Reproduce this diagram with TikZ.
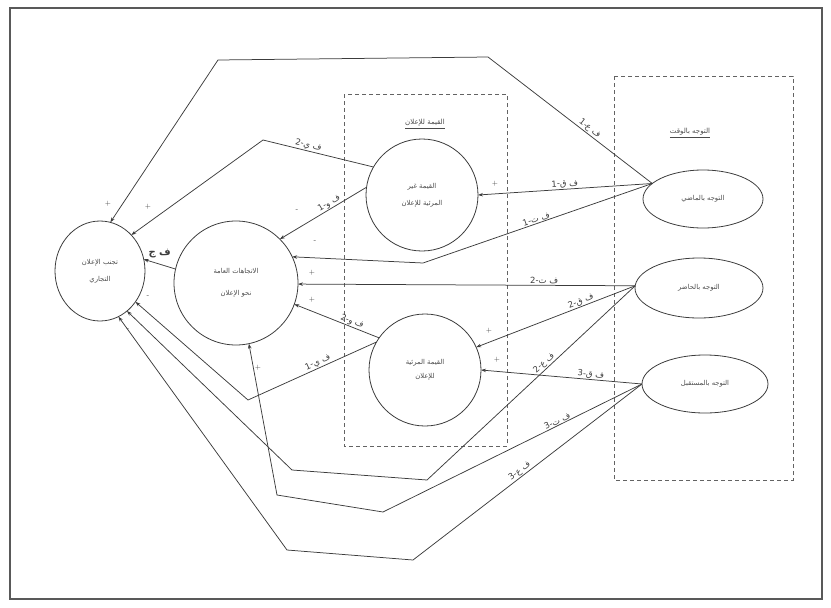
\documentclass[tikz,border=0pt]{standalone}
\usepackage{fontspec}
\newfontfamily\arabicfont[Script=Arabic]{DejaVu Sans}
\TeXXeTstate=1
\usetikzlibrary{arrows.meta,shapes.geometric}
\newcommand\artxt[1]{{\arabicfont\beginR #1\endR}}
\definecolor{ink}{HTML}{3C3C3C}
\definecolor{txt}{HTML}{4A4A4A}
\begin{document}
\begin{tikzpicture}[x=1pt,y=-1pt,
  every node/.style={inner sep=0pt, outer sep=0pt},
  ell/.style={draw=ink, line width=0.8pt, ellipse, align=center, text=txt,
    font=\fontsize{6.8}{8}\selectfont},
  circ/.style={draw=ink, line width=0.8pt, circle, align=center, text=txt,
    font=\fontsize{6.8}{8}\selectfont},
  conn/.style={draw=ink, line width=0.75pt, -{Stealth[length=5pt,width=3.5pt]}},
  lbl/.style={font=\fontsize{8.5}{9}\selectfont, text=ink, inner sep=1pt},
  sgn/.style={font=\fontsize{7}{8}\selectfont, text=ink},
  box/.style={draw=ink!80, line width=0.8pt, dash pattern=on 4pt off 3pt},
  ttl/.style={font=\fontsize{7}{8}\selectfont, text=txt}]
\useasboundingbox (0,0) rectangle (831,608);
\draw[ink!85, line width=1.3pt] (10,8) rectangle (822,599);

% dashed groups
\draw[box] (344,94) rectangle (507,446);
\draw[box] (614,76) rectangle (793,480);
\node[ttl] (t1) at (425,124) {\underline{\artxt{القيمة للإعلان}}};
\node[ttl] (t2) at (690,133) {\underline{\artxt{التوجه بالوقت}}};

% nodes
\node[ell, minimum width=90, minimum height=100] (avoid) at (100,271)
  {\artxt{تجنب الإعلان}\\[9pt]\artxt{التجاري}};
\node[circ, minimum size=124] (att) at (236,283)
  {\artxt{الاتجاهات العامة}\\[14pt]\artxt{نحو الإعلان}};
\node[circ, minimum size=112] (c1) at (422,195)
  {\artxt{القيمة غير}\\[9pt]\artxt{المرئية للإعلان}};
\node[circ, minimum size=112] (c2) at (425,370)
  {\artxt{القيمة المرئية}\\[6pt]\artxt{للإعلان}};
\node[ell, minimum width=120, minimum height=58] (past) at (703,199) {\artxt{التوجه بالماضي}};
\node[ell, minimum width=128, minimum height=60] (pres) at (699,288) {\artxt{التوجه بالحاضر}};
\node[ell, minimum width=126, minimum height=58] (fut) at (705,384) {\artxt{التوجه بالمستقبل}};

% bend points
\coordinate (tb2) at (488,57);
\coordinate (tb1) at (218,60);
\coordinate (b3) at (423,263);
\coordinate (b5) at (263,140);
\coordinate (b9a) at (427,480);
\coordinate (b9b) at (292,470);
\coordinate (b11) at (248,400);
\coordinate (b13a) at (383,512);
\coordinate (b13b) at (277,495);
\coordinate (b14a) at (413,560);
\coordinate (b14b) at (287,550);

% connectors from past
\draw[conn] (past.163) -- node[lbl,pos=.4,sloped,above]{\artxt{ف ع-1}} (tb2) -- (tb1) -- (avoid.78);
\draw[conn] (past.163) -- node[lbl,pos=.5,sloped,above]{\artxt{ف ق-1}} (c1.east);
\draw[conn] (past.163) -- node[lbl,pos=.5,sloped,above]{\artxt{ف ت-1}} (b3) -- (att.25);
% from circle 1
\draw[conn] (c1.172) -- node[lbl,pos=.4,sloped,above]{\artxt{ف و-1}} (att.45);
\draw[conn] (c1.150) -- node[lbl,pos=.6,sloped,above]{\artxt{ف ي-2}} (b5) -- (avoid.49);
% attitudes to avoidance
\draw[conn] (att.167) -- node[font=\fontsize{10}{11}\selectfont\bfseries, text=ink, above=6pt]{\artxt{ف ج}} (avoid.15);
% from present
\draw[conn] (pres.178) -- node[lbl,pos=.27,above]{\artxt{ف ت-2}} (att.-1);
\draw[conn] (pres.178) -- node[lbl,pos=.33,sloped,above]{\artxt{ف ق-2}} (c2.24);
\draw[conn] (pres.178) -- node[lbl,pos=.42,sloped,above]{\artxt{ف ع-2}} (b9a) -- (b9b) -- (avoid.-56);
% from circle 2
\draw[conn] (c2.145) -- node[lbl,pos=.34,sloped,above]{\artxt{ف و-2}} (att.-20);
\draw[conn] (c2.150) -- node[lbl,pos=.44,sloped,above]{\artxt{ف ي-1}} (b11) -- (avoid.-41);
% from future
\draw[conn] (fut.180) -- node[lbl,pos=.32,sloped,above]{\artxt{ف ق-3}} (c2.east);
\draw[conn] (fut.180) -- node[lbl,pos=.32,sloped,above]{\artxt{ف ت-3}} (b13a) -- (b13b) -- (att.-78);
\draw[conn] (fut.180) -- node[lbl,pos=.52,sloped,above]{\artxt{ف ع-3}} (b14a) -- (b14b) -- (avoid.-68);

% signs
\node[sgn] (s1) at (108,204) {+};
\node[sgn] (s2) at (148,207) {+};
\node[sgn] (s3) at (297,211) {-};
\node[sgn] (s4) at (315,242) {-};
\node[sgn] (s5) at (312,273) {+};
\node[sgn] (s6) at (312,300) {+};
\node[sgn] (s7) at (258,368) {+};
\node[sgn] (s8) at (148,297) {-};
\node[sgn] (s9) at (128,330) {-};
\node[sgn] (s10) at (495,184) {+};
\node[sgn] (s11) at (489,331) {+};
\node[sgn] (s12) at (497,360) {+};
\end{tikzpicture}
\end{document}
